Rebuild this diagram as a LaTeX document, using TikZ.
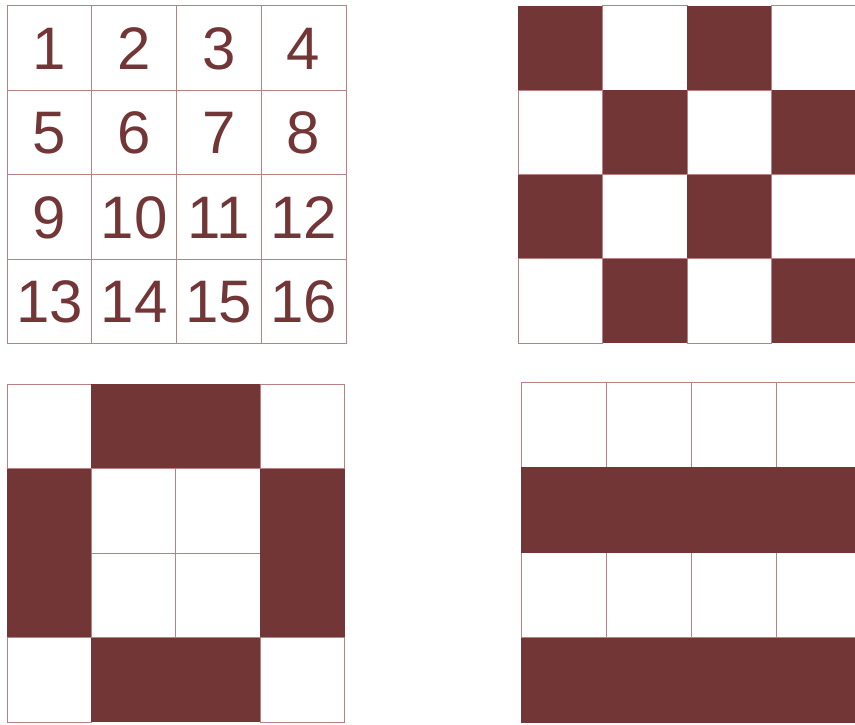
\documentclass[tikz,border=0pt]{standalone}
\usepackage{fontspec}
\setmainfont{Liberation Sans}
\definecolor{maroon}{RGB}{114,54,55}
\definecolor{gridline}{RGB}{185,130,130}
\begin{document}
\begin{tikzpicture}[x=1pt,y=-1pt,
  cellline/.style={draw=gridline,line width=0.9pt},
  cellfill/.style={fill=maroon},
  numtext/.style={text=maroon,font=\fontsize{60}{60}\selectfont,inner sep=0pt,anchor=center}]
\useasboundingbox[fill=white] (0,0) rectangle (855,724);
% ---------- top-left: numbers
\foreach \r in {0,...,3}{
  \foreach \c in {0,...,3}{
    \pgfmathtruncatemacro{\n}{\r*4+\c+1}
    \draw[cellline] ({7+\c*84.75},{5.5+\r*84.5}) rectangle ++(84.75,84.5);
    \node[numtext] (n\n) at ({7+(\c+0.5)*84.75},{5.5+(\r+0.5)*84.5+1}) {\n};
  }
}
% ---------- top-right: checkerboard
\foreach \r in {0,...,3}{
  \foreach \c in {0,...,3}{
    \pgfmathtruncatemacro{\p}{mod(\r+\c,2)}
    \ifnum\p=0
      \fill[cellfill] ({518.3+\c*84.5},{5.7+\r*84.4}) rectangle ++(84.5,84.4);
    \else
      \draw[cellline] ({518.3+\c*84.5},{5.7+\r*84.4}) rectangle ++(84.5,84.4);
    \fi
  }
}
% ---------- bottom-left: ring
\foreach \r/\c/\f in {0/0/0,0/1/1,0/2/1,0/3/0,1/0/1,1/1/0,1/2/0,1/3/1,2/0/1,2/1/0,2/2/0,2/3/1,3/0/0,3/1/1,3/2/1,3/3/0}{
  \ifnum\f=1
    \fill[cellfill] ({7+\c*84.4},{384.3+\r*84.5}) rectangle ++(84.4,84.5);
  \else
    \draw[cellline] ({7+\c*84.4},{384.3+\r*84.5}) rectangle ++(84.4,84.5);
  \fi
}
% ---------- bottom-right: stripes
\foreach \r in {0,2}{
  \foreach \c in {0,...,3}{
    \draw[cellline] ({521+\c*85.2},{382.3+\r*85.1}) rectangle ++(85.2,85.1);
  }
}
\foreach \r in {1,3}{
  \fill[cellfill] (521,{382.3+\r*85.1}) rectangle ++(340.8,85.1);
}
\end{tikzpicture}
\end{document}
